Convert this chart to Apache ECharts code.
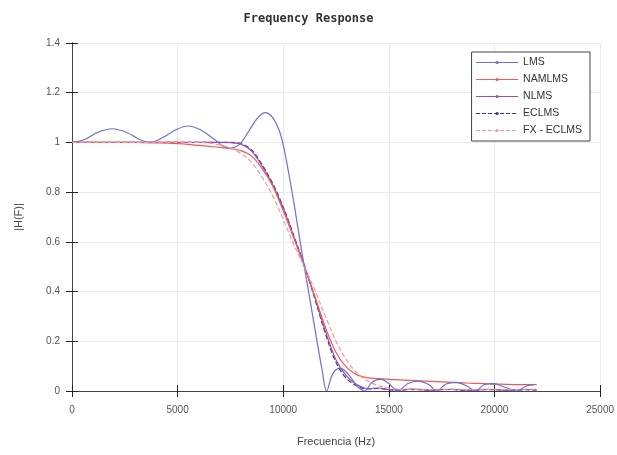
<!DOCTYPE html>
<html>
<head>
<meta charset="utf-8">
<script src="https://cdn.jsdelivr.net/npm/echarts@6/dist/echarts.min.js"></script>
<style>html,body{margin:0;padding:0;background:#fff}#c{width:617px;height:455px}</style>
</head>
<body>
<div id="c"></div>
<script>
// Shared frequency grid (Hz)
var freqHz = [0,500,1000,1500,2000,2500,3000,3500,4000,4500,5000,5500,6000,6500,7000,7500,8000,8500,9000,9500,10000,10500,11000,11500,12000,12500,13000,13500,14000,14500,15000,15500,16000,16500,17000,17500,18000,18500,19000,19500,20000,20500,21000,21500,22000];

var namlmsMag = [1.0,1.0,1.0,1.0,1.0,1.0,1.0,0.999,0.998,0.997,0.995,0.992,0.988,0.984,0.98,0.975,0.967,0.945,0.895,0.825,0.725,0.615,0.5,0.38,0.255,0.155,0.095,0.065,0.053,0.05,0.047,0.045,0.043,0.041,0.039,0.037,0.035,0.033,0.031,0.03,0.028,0.027,0.026,0.026,0.026];

var nlmsMag = [1.0,1.0,1.0,1.0,1.0,1.0,1.0,1.0,1.0,1.0,1.0,1.0,1.0,1.0,1.0,0.999,0.993,0.965,0.905,0.83,0.735,0.62,0.505,0.375,0.24,0.125,0.06,0.025,0.01,0.012,0.006,0.004,0.008,0.006,0.003,0.006,0.007,0.004,0.003,0.006,0.006,0.003,0.004,0.006,0.005];

var eclmsMag = [1.0,1.0,1.0,1.0,1.0,1.0,1.0,1.0,1.0,1.0,1.0,1.0,1.0,1.0,1.0,1.0,0.995,0.97,0.91,0.835,0.74,0.625,0.505,0.37,0.23,0.115,0.05,0.02,0.008,0.01,0.005,0.003,0.006,0.005,0.003,0.005,0.006,0.003,0.003,0.005,0.005,0.003,0.004,0.005,0.004];

var fxeclmsMag = [1.0,1.0,1.0,1.0,1.0,1.0,1.0,1.0,1.0,1.0,1.0,1.0,1.0,0.997,0.99,0.977,0.955,0.92,0.86,0.785,0.69,0.59,0.5,0.405,0.3,0.2,0.125,0.072,0.04,0.022,0.012,0.008,0.007,0.007,0.007,0.007,0.007,0.007,0.007,0.007,0.007,0.007,0.007,0.007,0.007];

// LMS has its own frequency points (ripples)
var lmsFreqHz = [0,600,1200,1900,2600,3200,3700,4300,4900,5500,6100,6700,7400,7900,8400,8800,9150,9500,9800,10000,10250,10500,10800,11200,11600,11850,12050,12350,12700,13100,13500,13850,14200,14600,15000,15420,15900,16400,16900,17250,17700,18200,18700,19100,19500,19950,20500,21050,21500,21900];
var lmsMag = [1.0,1.012,1.04,1.055,1.04,1.012,1.0,1.02,1.05,1.066,1.05,1.015,0.977,0.99,1.05,1.1,1.12,1.1,1.05,0.99,0.88,0.76,0.6,0.4,0.2,0.08,0.0,0.07,0.092,0.065,0.02,0.0,0.035,0.048,0.03,0.0,0.03,0.04,0.025,0.0,0.028,0.035,0.02,0.0,0.025,0.03,0.015,0.0,0.02,0.027];

var seriesNames = ['LMS','NAMLMS','NLMS','ECLMS','FX - ECLMS'];

function pairs(xs, ys){ return xs.map(function(x,i){ return [x, ys[i]]; }); }

var chart = echarts.init(document.getElementById('c'), null, {renderer:'canvas'});
var axisCol = '#444';
function mkLine(name, xs, ys, color, type, z){
  return {
    name: name, type: 'line', data: pairs(xs, ys),
    xAxisIndex: 0, yAxisIndex: 0,
    smooth: 0.35, symbol: 'circle', symbolSize: 3, showSymbol: false,
    lineStyle: {color: color, width: 1.2, type: type},
    itemStyle: {color: color},
    z: z, animation: false
  };
}
chart.setOption({
  animation: false,
  backgroundColor: '#fff',
  title: {
    text: 'Frequency Response', left: 'center', top: 8,
    textStyle: {fontFamily: 'DejaVu Sans Mono', fontWeight: 'bold', fontSize: 12, color: '#333'}
  },
  grid: {left: 72, right: 16, top: 43, bottom: 64, containLabel: false},
  legend: {
    data: seriesNames, orient: 'vertical', right: 27, top: 52,
    backgroundColor: '#fff', borderColor: '#444', borderWidth: 1,
    padding: [5, 8, 5, 4], itemGap: 6, itemWidth: 42, itemHeight: 4,
    lineStyle: {width: 1},
    textStyle: {fontFamily: 'Liberation Sans', fontSize: 10.5, color: '#333'}
  },
  xAxis: [{
    type: 'value', min: 0, max: 25000, interval: 5000,
    name: 'Frecuencia (Hz)', nameLocation: 'middle', nameGap: 45,
    nameTextStyle: {fontFamily: 'Liberation Sans', fontSize: 11, color: '#444'},
    axisLine: {show: true, onZero: false, lineStyle: {color: axisCol}},
    axisTick: {show: true, inside: true, length: 6, lineStyle: {color: '#222'}},
    axisLabel: {fontFamily: 'Liberation Sans', fontSize: 10, color: '#555', margin: 14,
      formatter: function(v){ return String(v); }},
    splitLine: {show: true, lineStyle: {color: '#ebebeb'}}
  },{
    type: 'value', min: 0, max: 25000, interval: 5000, position: 'top',
    axisLine: {show: true, lineStyle: {color: axisCol}},
    axisTick: {show: true, inside: true, length: 6, lineStyle: {color: '#222'}},
    axisLabel: {show: false}, splitLine: {show: false}
  }],
  yAxis: [{
    type: 'value', min: 0, max: 1.4, interval: 0.2,
    name: '|H(F)|', nameLocation: 'middle', nameGap: 48, nameRotate: 90,
    nameTextStyle: {fontFamily: 'Liberation Sans', fontSize: 11, color: '#444'},
    axisLine: {show: true, lineStyle: {color: axisCol}},
    axisTick: {show: true, inside: true, length: 6, lineStyle: {color: '#222'}},
    axisLabel: {fontFamily: 'Liberation Sans', fontSize: 10, color: '#555', margin: 12,
      formatter: function(v){ return String(Math.round(v*10)/10); }},
    splitLine: {show: true, lineStyle: {color: '#ebebeb'}}
  },{
    type: 'value', min: 0, max: 1.4, interval: 0.2, position: 'right',
    axisLine: {show: true, lineStyle: {color: axisCol}},
    axisTick: {show: true, inside: true, length: 6, lineStyle: {color: '#222'}},
    axisLabel: {show: false}, splitLine: {show: false}
  }],
  series: [
    mkLine('LMS', lmsFreqHz, lmsMag, '#6f6fcf', 'solid', 5),
    mkLine('NAMLMS', freqHz, namlmsMag, '#ee5a5a', 'solid', 4),
    mkLine('NLMS', freqHz, nlmsMag, '#a24aa8', 'solid', 3),
    mkLine('ECLMS', freqHz, eclmsMag, '#34348e', 'dashed', 2),
    mkLine('FX - ECLMS', freqHz, fxeclmsMag, '#f39a9a', 'dashed', 6)
  ]
});
</script>
</body>
</html>
